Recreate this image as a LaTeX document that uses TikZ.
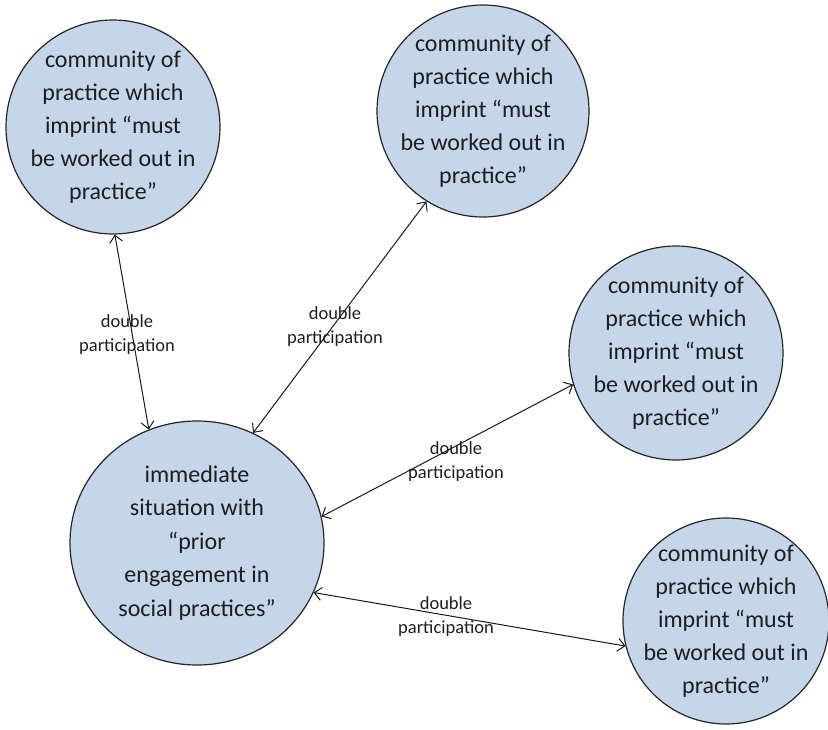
\documentclass[tikz,border=0pt]{standalone}
\usepackage{fontspec}
\setmainfont{Carlito}
\usetikzlibrary{arrows.meta,shapes.geometric}
\definecolor{cfill}{RGB}{197,213,234}
\definecolor{ctext}{RGB}{30,30,30}
\tikzset{
  community/.style={circle,draw=black!85,line width=1.2pt,fill=cfill,inner sep=-14pt,
    text=ctext,align=center,font=\fontsize{24}{33}\selectfont},
  situation/.style={ellipse,draw=black!85,line width=1.2pt,fill=cfill,inner sep=0pt,
    minimum width=254pt,minimum height=244pt,
    text=ctext,align=center,font=\fontsize{24}{33.5}\selectfont},
  link/.style={{Straight Barb[length=7pt,width=13pt]}-{Straight Barb[length=7pt,width=13pt]},
    line width=1pt,black!90},
  linklabel/.style={align=center,text=ctext,inner sep=0pt,font=\fontsize{18.5}{24}\selectfont}
}
\begin{document}
\begin{tikzpicture}[x=1pt,y=-1pt]
\useasboundingbox (0,0) rectangle (828,729);
\newcommand{\cptext}{community of\\practice which\\imprint “must\\be worked out in\\practice”}
\node[community,minimum size=214pt] (c1) at (113,127) {\cptext};
\node[community,minimum size=212pt] (c2) at (483,111) {\cptext};
\node[community,minimum size=214pt] (c3) at (676,353) {\cptext};
\node[community,minimum size=206pt] (c4) at (726,621) {\cptext};
\node[situation] (big) at (197,543) {immediate\\situation with\\“prior\\engagement in\\social practices”};

\draw[link] (c1.-89) -- (big.113);
\draw[link] (c2.-122) -- (big.63);
\draw[link] (c3.197) -- (big.12);
\draw[link] (c4.194) -- (big.-23.6);

\node[linklabel] (l1) at (127,335) {double\\participation};
\node[linklabel] (l2) at (335,327) {double\\participation};
\node[linklabel] (l3) at (456,462) {double\\participation};
\node[linklabel] (l4) at (446,617) {double\\participation};
\end{tikzpicture}
\end{document}
